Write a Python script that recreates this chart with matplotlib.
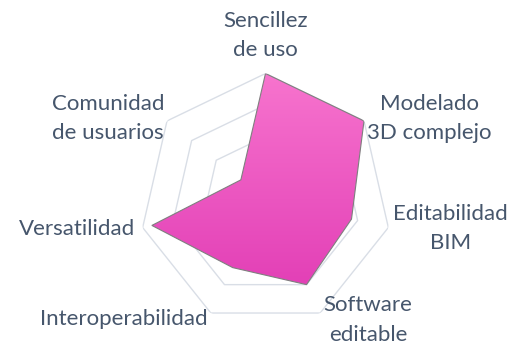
import numpy as np
import matplotlib
matplotlib.use("Agg")
import matplotlib.pyplot as plt
from matplotlib.image import AxesImage
from matplotlib.colors import LinearSegmentedColormap

# radar data (scale 0-4, rings every 1)
categories = ["Sencillez\nde uso", "Modelado\n3D complejo", "Editabilidad\nBIM",
              "Software\neditable", "Interoperabilidad", "Versatilidad",
              "Comunidad\nde usuarios"]
values = [4.0, 4.0, 2.8, 3.0, 2.4, 3.7, 1.0]
rings = [1, 2, 3, 4]

text_color = "#46566C"
grid_color = "#D9DEE6"

plt.rcParams["font.family"] = ["Lato", "DejaVu Sans"]

fig = plt.figure(figsize=(5.25, 3.45), dpi=100)
# centre ~ (265.5, 199.5) px, radius ~126 px
cx, cy, R = 265.5 / 525, 1 - 199.5 / 345, 126.0
ax = fig.add_axes([cx - R / 525, cy - R / 345, 2 * R / 525, 2 * R / 345], projection="polar")
ax.set_theta_offset(np.pi / 2)
ax.set_theta_direction(-1)
ax.set_ylim(0, 4)
ax.set_xticks([])
ax.set_yticks([])
ax.spines["polar"].set_visible(False)
ax.patch.set_alpha(0)

n = len(categories)
theta = np.linspace(0, 2 * np.pi, n, endpoint=False)
theta_c = np.append(theta, theta[0])

# heptagon rings
for r in rings:
    ax.plot(theta_c, [r] * (n + 1), color=grid_color, lw=1.0, zorder=1)

# polygon outline + gradient fill clipped to it
vals_c = values + values[:1]
poly = ax.fill(theta_c, vals_c, facecolor="none", edgecolor="#7F7F7F", lw=0.8, zorder=3)[0]

cmap = LinearSegmentedColormap.from_list("pinkgrad", ["#F774CE", "#DF36B2"])
grad = np.linspace(0, 1, 256).reshape(-1, 1)
im = AxesImage(ax, cmap=cmap, extent=(0, 1, 0, 1), origin="upper",
               interpolation="bilinear", transform=ax.transAxes, zorder=2)
im.set_data(grad)
ax.add_image(im)
im.set_clip_path(poly)

# category labels
label_pos = [
    (1.30, "center", "center"),
    (1.03, "left", "center"),
    (1.04, "left", "center"),
    (1.06, "left", "center"),
    (1.05, "right", "center"),
    (1.06, "right", "center"),
    (1.03, "right", "center"),
]
for t, lab, (rr, ha, va) in zip(theta, categories, label_pos):
    ax.text(t, rr * 4, lab, ha=ha, va=va, multialignment="center",
            color=text_color, fontsize=16, linespacing=1.6, clip_on=False)

fig.savefig("out.png", dpi=100)
